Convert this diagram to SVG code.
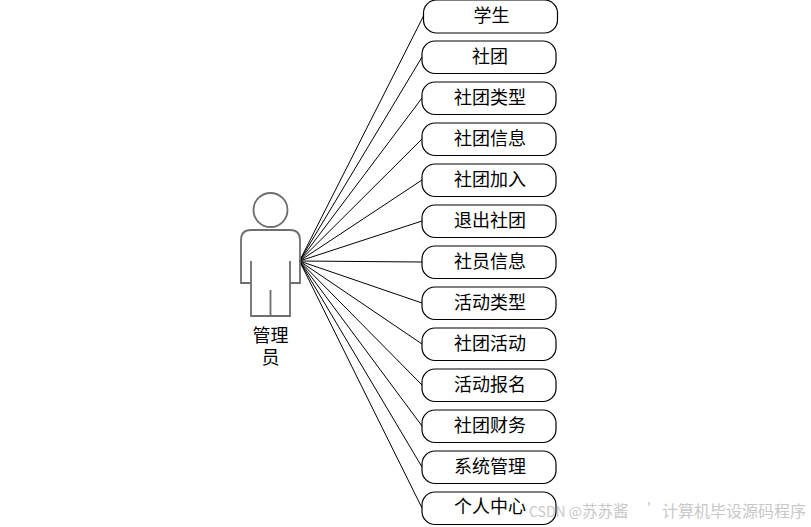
<svg xmlns="http://www.w3.org/2000/svg" width="811" height="527" viewBox="0 0 811 527">
<style>
.b{fill:#fff;stroke:#000;stroke-width:1.2}
.l{stroke:#000;stroke-width:1;fill:none}
.a{fill:none;stroke:#6e6e6e;stroke-width:1.8}
text{font-family:"Noto Sans CJK SC","Liberation Serif",serif;font-size:18px;fill:#000;text-anchor:middle}
.w{font-size:16px;fill:#c8c8c8;text-anchor:start}
</style>
<rect width="811" height="527" fill="#fff"/>
<g id="connectors" class="l">
<path d="M299.500 261L423.500 16"/><path d="M299.500 261L422 57"/><path d="M299.500 261L422 98"/><path d="M299.500 261L422 139"/><path d="M299.500 261L422 180"/><path d="M299.500 261L422 221"/><path d="M299.500 261L422 262"/><path d="M299.500 261L422 303"/><path d="M299.500 261L422 344"/><path d="M299.500 261L422 385"/><path d="M299.500 261L422 426"/><path d="M299.500 261L422 467"/><path d="M299.500 261L422 508"/>
</g>
<g id="actor">
<circle class="a" cx="270.500" cy="210" r="17"/>
<path class="a" d="M251 261V283H241V240Q241 230 251 230H290Q300 230 300 240V283H290V261M251 283V316H290V283M270.500 290V316"/>
<text x="270.500" y="342">管理<tspan x="270.500" dy="22">员</tspan></text>
</g>
<g id="n1"><rect class="b" x="423.500" y="0" width="134" height="33" rx="13"/><text x="491.500" y="22">学生</text></g>
<g id="n2"><rect class="b" x="422" y="41" width="134" height="32.500" rx="13"/><text x="490" y="63">社团</text></g>
<g id="n3"><rect class="b" x="422" y="82" width="134" height="32.500" rx="13"/><text x="490" y="104">社团类型</text></g>
<g id="n4"><rect class="b" x="422" y="123" width="134" height="32.500" rx="13"/><text x="490" y="145">社团信息</text></g>
<g id="n5"><rect class="b" x="422" y="164" width="134" height="32.500" rx="13"/><text x="490" y="186">社团加入</text></g>
<g id="n6"><rect class="b" x="422" y="205" width="134" height="32.500" rx="13"/><text x="490" y="227">退出社团</text></g>
<g id="n7"><rect class="b" x="422" y="246" width="134" height="32.500" rx="13"/><text x="490" y="268">社员信息</text></g>
<g id="n8"><rect class="b" x="422" y="287" width="134" height="32.500" rx="13"/><text x="490" y="309">活动类型</text></g>
<g id="n9"><rect class="b" x="422" y="328" width="134" height="32.500" rx="13"/><text x="490" y="350">社团活动</text></g>
<g id="n10"><rect class="b" x="422" y="369" width="134" height="32.500" rx="13"/><text x="490" y="391">活动报名</text></g>
<g id="n11"><rect class="b" x="422" y="410" width="134" height="32.500" rx="13"/><text x="490" y="432">社团财务</text></g>
<g id="n12"><rect class="b" x="422" y="451" width="134" height="32.500" rx="13"/><text x="490" y="473">系统管理</text></g>
<g id="n13"><rect class="b" x="422" y="492" width="134" height="32.500" rx="13"/><text x="490" y="513">个人中心</text></g>
<text class="w" x="529" y="517" style="font-size:14px">CSDN @<tspan style="font-size:15.500px">苏苏酱</tspan></text>
<text class="w" x="647" y="513" style="font-size:14px">'</text>
<text class="w" x="662" y="517">计算机毕设源码程序</text>
</svg>
